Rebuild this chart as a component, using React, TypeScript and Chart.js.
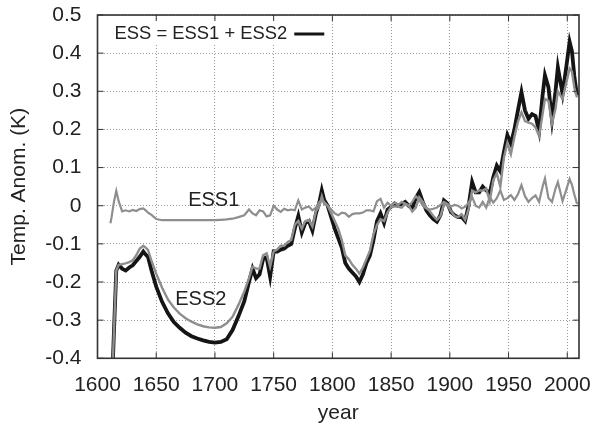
import React, { useEffect, useRef } from "react";
import { Chart, registerables } from "chart.js";

Chart.register(...registerables);

const FONT = "'Liberation Sans', Arial, Helvetica, sans-serif";

const years = [
  1611, 1612, 1614, 1616, 1618, 1621, 1624, 1627, 1630, 1633,
  1636, 1639, 1641, 1643, 1646, 1650, 1655, 1660, 1665, 1670,
  1675, 1680, 1685, 1690, 1695, 1700, 1705, 1710, 1715, 1720,
  1725, 1729, 1732, 1735, 1738, 1741, 1744, 1747, 1750, 1753,
  1756, 1759, 1762, 1765, 1768, 1771, 1774, 1777, 1780, 1783,
  1786, 1789, 1791, 1793, 1796, 1799, 1802, 1805, 1808, 1811,
  1814, 1817, 1820, 1823, 1826, 1829, 1832, 1835, 1838, 1841,
  1844, 1847, 1850, 1853, 1856, 1859, 1862, 1865, 1868, 1871,
  1874, 1877, 1880, 1883, 1886, 1889, 1892, 1895, 1898, 1901,
  1904, 1907, 1910, 1913, 1916, 1919, 1922, 1925, 1928, 1931,
  1934, 1937, 1940, 1943, 1946, 1949, 1952, 1955, 1958, 1961,
  1964, 1967, 1970, 1973, 1976, 1979, 1981, 1984, 1987, 1990,
  1992, 1996, 1999, 2002, 2004, 2006, 2008, 2009,
];

const ess1 = [
  -0.046, -0.03, 0.01, 0.039, 0.012, -0.015, -0.012, -0.015, -0.011, -0.014,
  -0.009, -0.007, -0.012, -0.018, -0.024, -0.035, -0.038, -0.038, -0.038, -0.038,
  -0.038, -0.038, -0.038, -0.038, -0.038, -0.038, -0.037, -0.036, -0.034, -0.03,
  -0.025, -0.01, -0.02, -0.025, -0.012, -0.015, -0.028, -0.025, 0.0, -0.01,
  -0.016, -0.008, -0.012, -0.01, -0.012, 0.014, -0.01, -0.005, -0.002, -0.012,
  -0.005, 0.01, 0.014, 0.01, 0.0, -0.01, -0.02, -0.025, -0.018, -0.02,
  -0.029, -0.022, -0.02, -0.02, -0.018, -0.012, -0.012, -0.015, 0.012, 0.018,
  -0.005, 0.008, 0.0, 0.008, 0.002, 0.01, 0.005, 0.0, 0.01, 0.025,
  0.015, 0.0, -0.007, -0.01, -0.008, -0.005, 0.002, 0.01, 0.005, -0.002,
  0.002, 0.0, -0.007, -0.003, 0.008, 0.023, 0.0, -0.005, 0.01, -0.005,
  0.023, 0.008, 0.02, 0.04, 0.015, 0.02, 0.028, 0.015, 0.03, 0.054,
  0.025, 0.01, 0.02, 0.027, 0.01, 0.05, 0.071, 0.02, 0.01, 0.045,
  0.062, 0.012, 0.04, 0.07, 0.055, 0.03, 0.008, 0.004,
];

const ess2 = [
  null, -0.5, -0.33, -0.17, -0.155, -0.153, -0.151, -0.148, -0.143, -0.13,
  -0.112, -0.105, -0.11, -0.116, -0.145, -0.178, -0.215, -0.246, -0.267, -0.283,
  -0.295, -0.304, -0.311, -0.316, -0.319, -0.32, -0.318, -0.308, -0.291, -0.26,
  -0.225, -0.19, -0.16, -0.165, -0.165, -0.13, -0.125, -0.16, -0.12, -0.115,
  -0.105, -0.105, -0.095, -0.09, -0.05, -0.04, -0.06, -0.04, -0.038, -0.055,
  -0.015, 0.0, 0.025, 0.005, 0.0, -0.02, -0.04, -0.06, -0.09, -0.13,
  -0.14, -0.155, -0.165, -0.178, -0.162, -0.14, -0.118, -0.075, -0.05, -0.035,
  -0.04, -0.018, -0.003, -0.002, -0.002, -0.005, 0.005, 0.0, -0.015, -0.005,
  0.022, 0.01, -0.005, -0.015, -0.027, -0.037, -0.027, 0.004, 0.001, -0.014,
  -0.027, -0.03, -0.022, -0.037, -0.008, 0.04, 0.035, 0.04, 0.04, 0.045,
  0.012, 0.067, 0.085, 0.05, 0.125, 0.165, 0.135, 0.18, 0.22, 0.245,
  0.222, 0.218, 0.215, 0.205, 0.183, 0.24, 0.28, 0.275, 0.215, 0.255,
  0.3, 0.28, 0.32, 0.36, 0.352, 0.31, 0.287, 0.286,
];

const ess = [
  null, -0.5, -0.33, -0.17, -0.155, -0.165, -0.17, -0.162, -0.156, -0.145,
  -0.134, -0.12, -0.128, -0.134, -0.17, -0.212, -0.252, -0.282, -0.305, -0.32,
  -0.333, -0.342, -0.348, -0.353, -0.357, -0.359, -0.357, -0.35, -0.326, -0.29,
  -0.25, -0.2, -0.165, -0.19, -0.18, -0.14, -0.135, -0.186, -0.12, -0.12,
  -0.115, -0.112, -0.105, -0.1, -0.06, -0.027, -0.07, -0.045, -0.04, -0.065,
  -0.02, 0.01, 0.04, 0.015, 0.0, -0.03, -0.06, -0.085, -0.11, -0.15,
  -0.165, -0.175, -0.185, -0.2, -0.18, -0.15, -0.13, -0.09, -0.04, -0.02,
  -0.045, -0.01, -0.003, 0.006, 0.0, 0.005, 0.01, 0.0, -0.007, 0.02,
  0.036, 0.01, -0.012, -0.025, -0.035, -0.042, -0.025, 0.014, 0.006, -0.016,
  -0.025, -0.03, -0.029, -0.04, 0.0, 0.062, 0.035, 0.035, 0.05, 0.04,
  0.032, 0.075, 0.105, 0.09, 0.14, 0.185, 0.163, 0.2, 0.25, 0.298,
  0.25, 0.228, 0.24, 0.235, 0.195, 0.29, 0.342, 0.31, 0.225, 0.3,
  0.363, 0.294, 0.36, 0.43, 0.405, 0.34, 0.295, 0.29,
];

const xTicks = [1600, 1650, 1700, 1750, 1800, 1850, 1900, 1950, 2000];
const yTicks = [-0.4, -0.3, -0.2, -0.1, 0, 0.1, 0.2, 0.3, 0.4, 0.5];
const yTickLabels = ["-0.4", "-0.3", "-0.2", "-0.1", "0", "0.1", "0.2", "0.3", "0.4", "0.5"];

const legendText = "ESS = ESS1 + ESS2";
const curveLabels = ["ESS1", "ESS2"];
const curveLabelYears = [1699, 1688];
const curveLabelValues = [0.014, -0.247];

function toPoints(vals: (number | null)[]) {
  const out: { x: number; y: number }[] = [];
  years.forEach((x, i) => {
    const v = vals[i];
    if (v !== null && v !== undefined) out.push({ x, y: v });
  });
  return out;
}

export default function App() {
  const ref = useRef<HTMLCanvasElement>(null);

  useEffect(() => {
    if (!ref.current) return;

    const overlay = {
      id: "overlay",
      beforeDatasetsDraw(c: any) {
        const { ctx, chartArea: a } = c;
        ctx.save();
        ctx.fillStyle = "#ffffff";
        ctx.fillRect(a.left + 2, a.top + 6, 232, 23);
        ctx.restore();
      },
      afterDatasetsDraw(c: any) {
        const { ctx, chartArea: a, scales } = c;
        const xs = scales.x;
        const ys = scales.y;
        ctx.save();
        ctx.strokeStyle = "#333";
        ctx.lineWidth = 1;
        ctx.beginPath();
        xTicks.forEach((v) => {
          const px = xs.getPixelForValue(v);
          ctx.moveTo(px, a.bottom);
          ctx.lineTo(px, a.bottom - 6);
          ctx.moveTo(px, a.top);
          ctx.lineTo(px, a.top + 6);
        });
        yTicks.forEach((v) => {
          const py = ys.getPixelForValue(v);
          ctx.moveTo(a.left, py);
          ctx.lineTo(a.left + 6, py);
          ctx.moveTo(a.right, py);
          ctx.lineTo(a.right - 6, py);
        });
        ctx.stroke();
        ctx.lineWidth = 1.6;
        ctx.strokeStyle = "#333";
        ctx.strokeRect(a.left, a.top, a.right - a.left, a.bottom - a.top);
        ctx.font = `18.4px ${FONT}`;
        ctx.fillStyle = "#222";
        ctx.textBaseline = "middle";
        ctx.textAlign = "left";
        const tx = a.left + 17;
        const ty = a.top + 19;
        ctx.fillText(legendText, tx, ty);
        const w = ctx.measureText(legendText).width;
        ctx.strokeStyle = "#151515";
        ctx.lineWidth = 3;
        ctx.beginPath();
        ctx.moveTo(tx + w + 7, ty);
        ctx.lineTo(tx + w + 37, ty);
        ctx.stroke();
        ctx.font = `20px ${FONT}`;
        ctx.textAlign = "center";
        ctx.fillStyle = "#222";
        curveLabels.forEach((t, i) => {
          ctx.fillText(
            t,
            xs.getPixelForValue(curveLabelYears[i]),
            ys.getPixelForValue(curveLabelValues[i])
          );
        });
        ctx.restore();
      },
    };

    const chart = new Chart(ref.current, {
      type: "line",
      data: {
        datasets: [
          {
            label: "ESS1",
            data: toPoints(ess1),
            borderColor: "#8e8e8e",
            borderWidth: 2.2,
            pointRadius: 0,
            tension: 0,
            fill: false,
          },
          {
            label: "ESS2",
            data: toPoints(ess2),
            borderColor: "#8e8e8e",
            borderWidth: 2.4,
            pointRadius: 0,
            tension: 0,
            fill: false,
          },
          {
            label: "ESS",
            data: toPoints(ess),
            borderColor: "#151515",
            borderWidth: 3.8,
            pointRadius: 0,
            tension: 0,
            fill: false,
          },
        ],
      },
      options: {
        animation: false,
        responsive: false,
        devicePixelRatio: 1,
        layout: { padding: { top: 15, right: 13, left: 0, bottom: 0 } },
        plugins: {
          legend: { display: false },
          tooltip: { enabled: false },
        },
        scales: {
          x: {
            type: "linear",
            min: 1600,
            max: 2010,
            afterBuildTicks: (s: any) => {
              s.ticks = xTicks.map((v) => ({ value: v }));
            },
            afterFit: (s: any) => {
              s.height = 71.7;
              s.paddingLeft = 0;
              s.paddingRight = 0;
              s.paddingTop = 0;
              s.paddingBottom = 0;
            },
            ticks: {
              autoSkip: false,
              maxRotation: 0,
              padding: 14,
              color: "#222",
              font: { size: 21, family: FONT },
              callback: (v: any) => String(v),
            },
            grid: { color: "#9a9a9a", lineWidth: 1, drawTicks: false },
            border: { display: false, dash: [1, 2] },
            title: {
              display: true,
              text: "year",
              color: "#222",
              font: { size: 21, family: FONT },
              padding: { top: 0, bottom: 4 },
            },
          },
          y: {
            type: "linear",
            min: -0.4,
            max: 0.5,
            afterBuildTicks: (s: any) => {
              s.ticks = yTicks.map((v) => ({ value: v }));
            },
            afterFit: (s: any) => {
              s.width = 97.5;
              s.paddingLeft = 0;
              s.paddingRight = 0;
              s.paddingTop = 0;
              s.paddingBottom = 0;
            },
            ticks: {
              padding: 16,
              color: "#222",
              font: { size: 21, family: FONT },
              callback: (v: any) => {
                const i = yTicks.findIndex((t) => Math.abs(t - v) < 1e-9);
                return i >= 0 ? yTickLabels[i] : "";
              },
            },
            grid: { color: "#9a9a9a", lineWidth: 1, drawTicks: false },
            border: { display: false, dash: [1, 2] },
            title: {
              display: true,
              text: "Temp. Anom. (K)",
              color: "#222",
              font: { size: 21, family: FONT },
              padding: { top: 7, bottom: 0 },
            },
          },
        },
      },
      plugins: [overlay],
    } as any);

    return () => chart.destroy();
  }, []);

  return (
    <div style={{ position: "fixed", left: 0, top: 0, width: 592, height: 430, background: "#fff" }}>
      <canvas ref={ref} width={592} height={430} style={{ display: "block" }} />
    </div>
  );
}
